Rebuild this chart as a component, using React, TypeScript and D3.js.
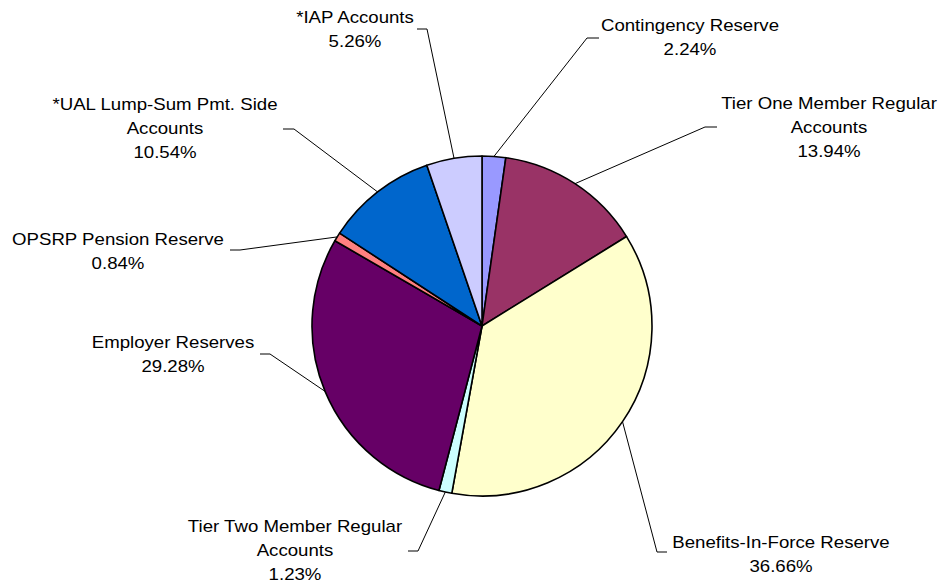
import { useEffect, useRef } from 'react';
import * as d3 from 'd3';

const categories = [
  'Contingency Reserve',
  'Tier One Member Regular Accounts',
  'Benefits-In-Force Reserve',
  'Tier Two Member Regular Accounts',
  'Employer Reserves',
  'OPSRP Pension Reserve',
  '*UAL Lump-Sum Pmt. Side Accounts',
  '*IAP Accounts',
];

const shares = [2.24, 13.94, 36.66, 1.23, 29.28, 0.84, 10.54, 5.26];

const sliceColors = ['#9999FF', '#993366', '#FFFFCC', '#CCFFFF', '#660066', '#FF8080', '#0066CC', '#CCCCFF'];

// how each label is broken into lines
const labelLines = [
  ['Contingency Reserve'],
  ['Tier One Member Regular', 'Accounts'],
  ['Benefits-In-Force Reserve'],
  ['Tier Two Member Regular', 'Accounts'],
  ['Employer Reserves'],
  ['OPSRP Pension Reserve'],
  ['*UAL Lump-Sum Pmt. Side', 'Accounts'],
  ['*IAP Accounts'],
];

// label placement: text centre x, first baseline, stub (x1 -> x2 at y), side the leader joins
const labelLayout = [
  { cx: 690, y: 31, sx1: 599, sx2: 587, sy: 38 },
  { cx: 829, y: 109, sx1: 717, sx2: 705, sy: 127 },
  { cx: 781, y: 548, sx1: 667, sx2: 657, sy: 552 },
  { cx: 295, y: 532, sx1: 408, sx2: 418, sy: 551 },
  { cx: 173, y: 348, sx1: 260, sx2: 270, sy: 354 },
  { cx: 118, y: 245, sx1: 230, sx2: 240, sy: 250 },
  { cx: 165, y: 110, sx1: 283, sx2: 294, sy: 129 },
  { cx: 355, y: 23, sx1: 417, sx2: 427, sy: 29 },
];

const W = 941;
const H = 584;

export default function App() {
  const ref = useRef<SVGSVGElement | null>(null);

  useEffect(() => {
    if (!ref.current) return;
    const svg = d3.select(ref.current);
    svg.selectAll('*').remove();

    const cx = 482;
    const cy = 326;
    const r = 170;

    const data = shares.map((v, i) => ({ v, i }));
    const pie = d3
      .pie<{ v: number; i: number }>()
      .value((d) => d.v)
      .sort(null);
    const arcs = pie(data);
    const arc = d3
      .arc<d3.PieArcDatum<{ v: number; i: number }>>()
      .innerRadius(0)
      .outerRadius(r);

    const g = svg.append('g').attr('transform', `translate(${cx},${cy})`);

    g.selectAll('path')
      .data(arcs)
      .join('path')
      .attr('d', arc)
      .attr('fill', (d) => sliceColors[d.data.i])
      .attr('stroke', '#000')
      .attr('stroke-width', 1.6)
      .attr('stroke-linejoin', 'round');

    // leader lines
    const lines = svg.append('g');
    arcs.forEach((a) => {
      const L = labelLayout[a.data.i];
      const mid = (a.startAngle + a.endAngle) / 2;
      const ex = cx + r * Math.sin(mid);
      const ey = cy - r * Math.cos(mid);
      lines
        .append('path')
        .attr('d', `M${L.sx1},${L.sy}L${L.sx2},${L.sy}L${ex},${ey}`)
        .attr('fill', 'none')
        .attr('stroke', '#000')
        .attr('stroke-width', 1);
    });

    // labels
    const texts = svg.append('g');
    categories.forEach((_, i) => {
      const L = labelLayout[i];
      const rows = [...labelLines[i], `${shares[i].toFixed(2)}%`];
      rows.forEach((t, j) => {
        texts
          .append('text')
          .attr('transform', `translate(${L.cx},${L.y + j * 24}) scale(1.165,1)`)
          .attr('text-anchor', 'middle')
          .attr('font-family', '"Liberation Sans", Arial, sans-serif')
          .attr('font-size', 16)
          .attr('fill', '#000')
          .text(t);
      });
    });
  }, []);

  return (
    <svg
      ref={ref}
      width={W}
      height={H}
      style={{ position: 'absolute', left: 0, top: 0, background: '#fff' }}
    />
  );
}
